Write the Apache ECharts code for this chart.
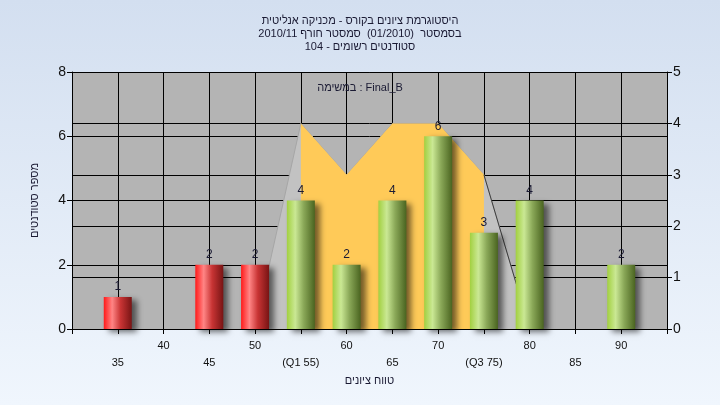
<!DOCTYPE html>
<html>
<head>
<meta charset="utf-8">
<script src="https://cdn.jsdelivr.net/npm/echarts@6/dist/echarts.min.js"></script>
<style>
html,body{margin:0;padding:0;}
#chart{width:720px;height:405px;}
</style>
</head>
<body>
<div id="chart"></div>
<script>
// ---- data ----
const titleLines = [
  "היסטוגרמת ציונים בקורס - מכניקה אנליטית",
  "בסמסטר  (01/2010)  סמסטר חורף 2010/11",
  "סטודנטים רשומים - 104"
];
const subTitle = "במשימה : Final_B";
const xAxisName = "טווח ציונים";
const yAxisName = "מספר סטודנטים";
const scores = [35, 45, 50, 55, 60, 65, 70, 75, 80, 90];
const counts = [1, 2, 2, 4, 2, 4, 6, 3, 4, 2];
const q1 = 55;
const q3 = 75;
const curveX = [50, 55, 60, 65, 70, 75, 80];
const curveY = [0, 4, 3, 4, 4, 3, 0];
const leftTicks = [0, 2, 4, 6, 8];
const rightTicks = [0, 1, 2, 3, 4, 5];
const xMin = 30, xMax = 95, xStep = 5;

// ---- build ----
const curve = curveX.map((x, i) => [x, curveY[i]]);
const curveMid = curve.filter(p => p[0] >= q1 && p[0] <= q3);
const curveTail = curve.filter(p => p[0] >= q3);

const redGrad = new echarts.graphic.LinearGradient(0, 0, 1, 0, [
  {offset: 0, color: '#ff1a1a'}, {offset: 0.3, color: '#ff8585'},
  {offset: 0.6, color: '#c83434'}, {offset: 1, color: '#781414'}
]);
const greenGrad = new echarts.graphic.LinearGradient(0, 0, 1, 0, [
  {offset: 0, color: '#a2d040'}, {offset: 0.3, color: '#cae894'},
  {offset: 0.6, color: '#8aa858'}, {offset: 1, color: '#4a6420'}
]);

const barData = scores.map((s, i) => ({
  value: [s, counts[i]],
  itemStyle: {color: s < q1 ? redGrad : greenGrad}
}));

const chart = echarts.init(document.getElementById('chart'), null, {renderer: 'canvas'});
const fontFam = '"Liberation Sans", Arial, sans-serif';

chart.setOption({
  backgroundColor: new echarts.graphic.LinearGradient(0, 0, 0, 1, [
    {offset: 0, color: '#d3dff0'}, {offset: 1, color: '#f0f6fd'}
  ]),
  animation: false,
  title: [
    {text: titleLines.join('\n'), left: 'center', top: 9,
     textStyle: {fontSize: 11, fontWeight: 'normal', color: '#1a1a33', lineHeight: 13, fontFamily: fontFam}},
    {text: subTitle, left: 'center', top: 77,
     textStyle: {fontSize: 11, fontWeight: 'normal', color: '#1a1a33', fontFamily: fontFam}}
  ],
  grid: {left: 72, right: 53, top: 72, bottom: 76, show: true, backgroundColor: '#b4b4b4', borderWidth: 0},
  xAxis: {
    type: 'value', min: xMin, max: xMax, interval: xStep,
    name: xAxisName, nameLocation: 'middle', nameGap: 46,
    nameTextStyle: {fontSize: 11, color: '#1a1a33', fontFamily: fontFam},
    axisLine: {show: true, onZero: false, lineStyle: {color: '#000', width: 1}},
    axisTick: {show: true, length: 5, lineStyle: {color: '#000'}},
    splitLine: {show: true, lineStyle: {color: '#000', width: 1}},
    axisLabel: {
      margin: 8, fontSize: 11, color: '#111', lineHeight: 17, fontFamily: fontFam,
      showMinLabel: true, showMaxLabel: true,
      formatter: function (v) {
        if (v === xMin || v === xMax) return '';
        let t = String(v);
        if (v === q1) t = '(Q1 ' + v + ')';
        if (v === q3) t = '(Q3 ' + v + ')';
        const idx = Math.round((v - xMin) / xStep);
        return idx % 2 === 1 ? '\n' + t : t;
      }
    }
  },
  yAxis: [
    {
      type: 'value', min: leftTicks[0], max: leftTicks[leftTicks.length - 1], interval: 2,
      name: yAxisName, nameLocation: 'middle', nameGap: 32, nameRotate: 90,
      nameTextStyle: {fontSize: 11, color: '#1a1a33', fontFamily: fontFam},
      axisLine: {show: true, lineStyle: {color: '#000'}},
      axisTick: {show: true, length: 5, lineStyle: {color: '#000'}},
      axisLabel: {fontSize: 14, color: '#111', margin: 6, fontFamily: fontFam},
      splitLine: {show: true, lineStyle: {color: '#000', width: 1}}
    },
    {
      type: 'value', min: rightTicks[0], max: rightTicks[rightTicks.length - 1], interval: 1,
      position: 'right',
      axisLine: {show: true, lineStyle: {color: '#000'}},
      axisTick: {show: true, length: 5, lineStyle: {color: '#000'}},
      axisLabel: {fontSize: 14, color: '#111', margin: 6, fontFamily: fontFam},
      splitLine: {show: true, lineStyle: {color: '#000', width: 1}}
    }
  ],
  series: [
    {
      type: 'line', yAxisIndex: 1, data: curve, symbol: 'none', z: 2,
      lineStyle: {color: '#a6a6a6', width: 1},
      areaStyle: {color: '#c2c2c2', opacity: 1}
    },
    {
      type: 'line', yAxisIndex: 1, data: curveMid, symbol: 'none', z: 3,
      lineStyle: {width: 0, color: '#ffca58'},
      areaStyle: {color: '#ffca58', opacity: 1}
    },
    {
      type: 'line', yAxisIndex: 1, data: curveTail, symbol: 'none', z: 3,
      lineStyle: {color: '#3c3c3c', width: 1}
    },
    {
      type: 'bar', yAxisIndex: 0, data: barData, barWidth: 28, z: 5,
      itemStyle: {shadowColor: 'rgba(0,0,0,0.55)', shadowBlur: 6, shadowOffsetX: 5, shadowOffsetY: 3},
      label: {show: true, position: 'top', distance: 4, fontSize: 12, color: '#1a1a33', fontFamily: fontFam,
              formatter: p => p.value[1]}
    }
  ]
});
</script>
</body>
</html>
